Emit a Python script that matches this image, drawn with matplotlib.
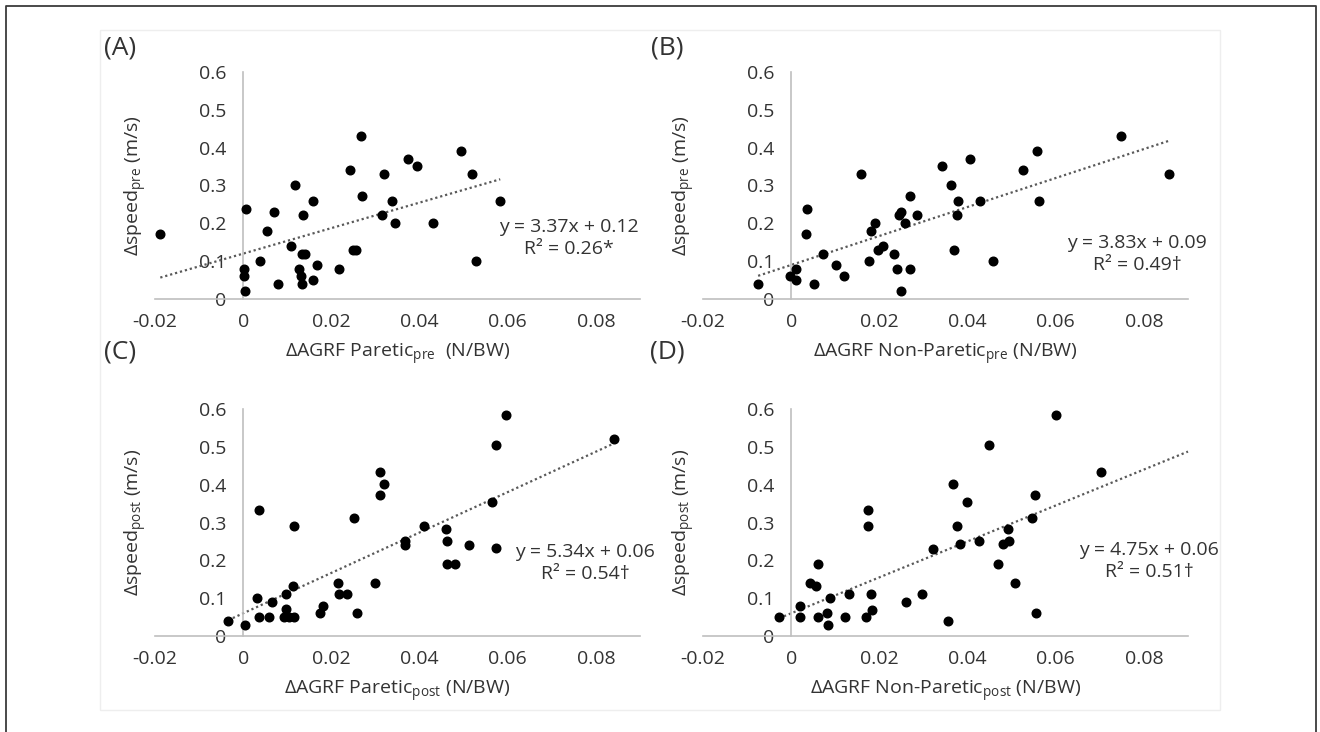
import numpy as np
import matplotlib.pyplot as plt
from matplotlib.patches import Rectangle
from matplotlib.lines import Line2D

plt.rcParams['font.family'] = ['Open Sans', 'DejaVu Sans']
plt.rcParams['mathtext.fontset'] = 'custom'
plt.rcParams['mathtext.rm'] = 'Open Sans'

# (A) paretic pre
a_x = [-0.0188, 0.0006, 0.0002, 0.0002, 0.0005, 0.0039, 0.0053, 0.0071, 0.0080, 0.0108,
       0.0118, 0.0126, 0.0130, 0.0133, 0.0136, 0.0134, 0.0140, 0.0158, 0.0168, 0.0159,
       0.0217, 0.0242, 0.0248, 0.0255, 0.0267, 0.0270, 0.0314, 0.0320, 0.0338, 0.0345,
       0.0373, 0.0394, 0.0431, 0.0495, 0.0520, 0.0528, 0.0583]
a_y = [0.172, 0.239, 0.080, 0.060, 0.020, 0.101, 0.181, 0.231, 0.040, 0.140,
       0.300, 0.080, 0.060, 0.040, 0.222, 0.120, 0.120, 0.260, 0.090, 0.050,
       0.080, 0.340, 0.130, 0.130, 0.431, 0.271, 0.222, 0.331, 0.260, 0.201,
       0.370, 0.351, 0.201, 0.391, 0.331, 0.101, 0.260]

# (B) non-paretic pre
b_x = [-0.0075, -0.0002, 0.0010, 0.0010, 0.0037, 0.0033, 0.0052, 0.0072, 0.0102, 0.0120,
       0.0159, 0.0177, 0.0180, 0.0190, 0.0196, 0.0209, 0.0233, 0.0239, 0.0248, 0.0248,
       0.0245, 0.0258, 0.0270, 0.0270, 0.0285, 0.0343, 0.0363, 0.0370, 0.0379, 0.0377,
       0.0406, 0.0428, 0.0458, 0.0526, 0.0557, 0.0563, 0.0747, 0.0858]
b_y = [0.040, 0.060, 0.080, 0.050, 0.239, 0.172, 0.040, 0.120, 0.090, 0.060,
       0.331, 0.101, 0.181, 0.201, 0.130, 0.140, 0.120, 0.080, 0.020, 0.231,
       0.222, 0.201, 0.271, 0.080, 0.222, 0.351, 0.300, 0.130, 0.260, 0.222,
       0.370, 0.260, 0.101, 0.340, 0.391, 0.260, 0.431, 0.331]

# (C) paretic post
c_x = [0.0036, 0.0115, 0.0251, 0.0310, 0.0311, 0.0320, 0.0367, 0.0367, 0.0411, 0.0461,
       0.0462, 0.0463, 0.0480, 0.0512, 0.0564, 0.0573, 0.0573, 0.0596, 0.0840,
       -0.0034, 0.0005, 0.0032, 0.0036, 0.0058, 0.0065, 0.0098, 0.0098, 0.0093, 0.0104,
       0.0115, 0.0112, 0.0174, 0.0181, 0.0216, 0.0217, 0.0235, 0.0258, 0.0300]
c_y = [0.332, 0.291, 0.312, 0.372, 0.434, 0.403, 0.252, 0.241, 0.291, 0.282,
       0.251, 0.191, 0.191, 0.241, 0.353, 0.504, 0.233, 0.584, 0.520,
       0.040, 0.029, 0.101, 0.049, 0.049, 0.090, 0.110, 0.071, 0.049, 0.049,
       0.049, 0.131, 0.060, 0.080, 0.140, 0.110, 0.110, 0.060, 0.140]

# (D) non-paretic post
d_x = [0.0174, 0.0174, 0.0367, 0.0399, 0.0375, 0.0383, 0.0427, 0.0448, 0.0492, 0.0494,
       0.0480, 0.0470, 0.0553, 0.0547, 0.0600, 0.0703, 0.0322, 0.0508,
       -0.0027, 0.0021, 0.0021, 0.0043, 0.0057, 0.0061, 0.0060, 0.0081, 0.0083, 0.0087,
       0.0123, 0.0130, 0.0170, 0.0180, 0.0183, 0.0261, 0.0297, 0.0355, 0.0555]
d_y = [0.332, 0.292, 0.403, 0.353, 0.292, 0.242, 0.251, 0.504, 0.282, 0.251,
       0.242, 0.191, 0.372, 0.312, 0.584, 0.434, 0.231, 0.141,
       0.049, 0.080, 0.049, 0.140, 0.131, 0.191, 0.049, 0.061, 0.030, 0.101,
       0.049, 0.110, 0.049, 0.110, 0.070, 0.090, 0.110, 0.040, 0.060]

panel_tags = ['(A)', '(B)', '(C)', '(D)']
slopes = [3.37, 3.83, 5.34, 4.75]
intercepts = [0.12, 0.09, 0.06, 0.06]
r2_text = ['R\u00b2 = 0.26*', 'R\u00b2 = 0.49\u2020', 'R\u00b2 = 0.54\u2020', 'R\u00b2 = 0.51\u2020']
x_labels = [r'$\Delta$AGRF Paretic$\mathregular{_{pre}}$  (N/BW)',
            r'$\Delta$AGRF Non-Paretic$\mathregular{_{pre}}$ (N/BW)',
            r'$\Delta$AGRF Paretic$\mathregular{_{post}}$ (N/BW)',
            r'$\Delta$AGRF Non-Paretic$\mathregular{_{post}}$ (N/BW)']
y_labels = [r'$\Delta$speed$\mathregular{_{pre}}$ (m/s)', r'$\Delta$speed$\mathregular{_{pre}}$ (m/s)',
            r'$\Delta$speed$\mathregular{_{post}}$ (m/s)', r'$\Delta$speed$\mathregular{_{post}}$ (m/s)']
x_ticks = [-0.02, 0, 0.02, 0.04, 0.06, 0.08]
y_ticks = [0, 0.1, 0.2, 0.3, 0.4, 0.5, 0.6]

xs = [a_x, b_x, c_x, d_x]
ys = [a_y, b_y, c_y, d_y]

W, H = 1320, 732
fig = plt.figure(figsize=(W / 100, H / 100), dpi=100)


def fx(px):
    return px / W


def fy(py):
    return 1 - py / H


# pixel boxes of the four plot areas: left, top, right, bottom
boxes = [(155, 72, 640, 299), (703, 72, 1188, 299),
         (155, 409, 640, 636), (703, 409, 1188, 636)]
tag_pos = [(120, 48), (667, 48), (120, 352), (667, 352)]
eq_pos = [(569, 238), (1137, 254), (585, 563), (1149, 561)]
ylab_x = [136, 684, 136, 684]
txt = '#333333'
fs = 14

for i in range(4):
    l, t, r, b = boxes[i]
    ax = fig.add_axes([fx(l), fy(b), fx(r) - fx(l), (b - t) / H])
    ax.set_xlim(-0.02, 0.09)
    ax.set_ylim(0, 0.6)
    ax.spines['top'].set_visible(False)
    ax.spines['right'].set_visible(False)
    ax.spines['left'].set_position(('data', 0))
    for s in ['left', 'bottom']:
        ax.spines[s].set_color('#bfbfbf')
        ax.spines[s].set_linewidth(1.2)
    ax.set_xticks(x_ticks)
    ax.set_xticklabels(['-0.02', '0', '0.02', '0.04', '0.06', '0.08'])
    ax.set_yticks(y_ticks)
    ax.set_yticklabels(['0', '0.1', '0.2', '0.3', '0.4', '0.5', '0.6'])
    ax.tick_params(length=0, labelsize=fs, labelcolor=txt)
    ax.tick_params(axis='x', pad=10)
    ax.tick_params(axis='y', pad=12)
    ax.patch.set_alpha(0)

    x = np.array(xs[i])
    y = np.array(ys[i])
    x0 = x.min()
    x1 = x.max() if i < 3 else ax.get_xlim()[1]
    lx = np.array([x0, x1])
    ax.plot(lx, slopes[i] * lx + intercepts[i], color='#595959', lw=1.6,
            linestyle=(0, (1, 1.3)), clip_on=False)
    ax.plot(x, y, 'o', color='black', markersize=6.2, clip_on=False, zorder=3)

    ax.set_xlabel(x_labels[i], fontsize=fs, color=txt, labelpad=8)

    fig.text(fx(ylab_x[i]), fy((t + b) / 2), y_labels[i], rotation=90, ha='center',
             va='center', fontsize=fs, color=txt)
    fig.text(fx(tag_pos[i][0]), fy(tag_pos[i][1]), panel_tags[i], ha='center', va='center',
             fontsize=19, color=txt)
    eq = 'y = %.2fx + %.2f\n%s' % (slopes[i], intercepts[i], r2_text[i])
    fig.text(fx(eq_pos[i][0]), fy(eq_pos[i][1]), eq, ha='center', va='center',
             multialignment='center', fontsize=fs, color=txt, linespacing=1.3)

# faint chart area and outer frame
fig.patches.append(Rectangle((fx(100), fy(710)), fx(1220) - fx(100), (710 - 30) / H,
                             transform=fig.transFigure, fill=False, edgecolor='#eeeeee', lw=1))
fig.lines.append(Line2D([fx(5.5), fx(5.5), fx(1316), fx(1316)], [0, fy(5.5), fy(5.5), 0],
                        transform=fig.transFigure, color='#3a3a3a', lw=1.3))

fig.savefig('out.png', dpi=100)
